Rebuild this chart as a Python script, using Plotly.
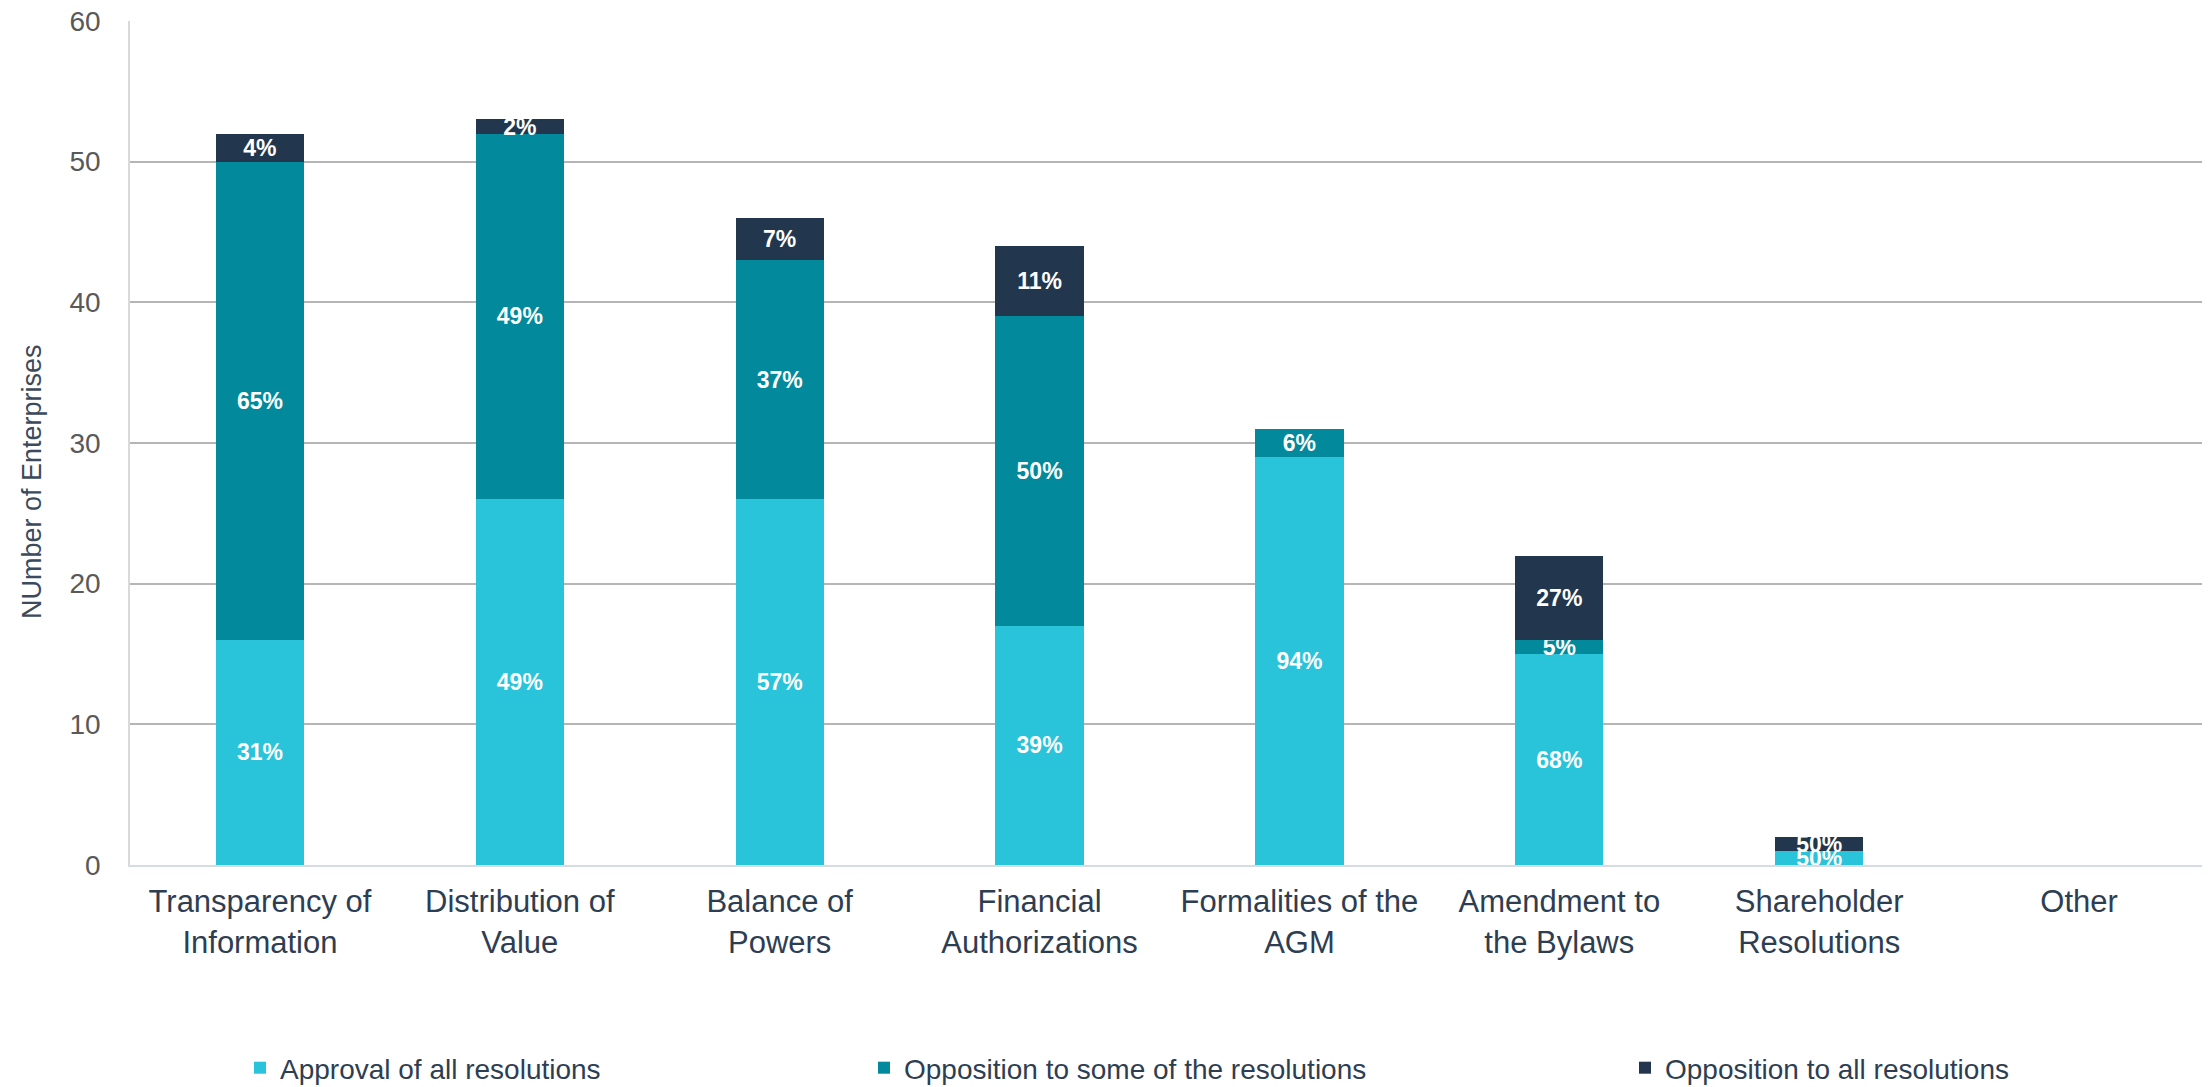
import plotly.graph_objects as go

categories = [
    "Transparency of<br>Information",
    "Distribution of<br>Value",
    "Balance of<br>Powers",
    "Financial<br>Authorizations",
    "Formalities of the<br>AGM",
    "Amendment to<br>the Bylaws",
    "Shareholder<br>Resolutions",
    "Other",
]

approval_all = [16, 26, 26, 17, 29, 15, 1, 0]
opposition_some = [34, 26, 17, 22, 2, 1, 0, 0]
opposition_all = [2, 1, 3, 5, 0, 6, 1, 0]

approval_labels = ["31%", "49%", "57%", "39%", "94%", "68%", "50%", ""]
some_labels = ["65%", "49%", "37%", "50%", "6%", "5%", "", ""]
all_labels = ["4%", "2%", "7%", "11%", "", "27%", "50%", ""]

series_names = [
    "Approval of all resolutions",
    "Opposition to some of the resolutions",
    "Opposition to all resolutions",
]
colors = ["#29C3DA", "#02899B", "#22374D"]

y_title = "NUmber of Enterprises"

FONT = "Liberation Sans, Arial, sans-serif"

fig = go.Figure()
series = [
    (approval_all, approval_labels),
    (opposition_some, some_labels),
    (opposition_all, all_labels),
]
legend_ids = ["legend", "legend2", "legend3"]
for (vals, labels), name, col, lg in zip(series, series_names, colors, legend_ids):
    fig.add_trace(go.Bar(
        x=categories, y=vals, name=name, text=labels,
        marker=dict(color=col, line=dict(width=0)),
        width=0.34,
        textposition="inside", insidetextanchor="middle",
        textangle=0,
        textfont=dict(family=FONT, size=23, color="white", weight="bold"),
        legend=lg,
    ))

# page is offset by the default 8px body margin
OFF = 8
W, H = 2210 - OFF, 1087 - OFF + 30
# target page coordinates of plot area
left_pg, right_pg, top_pg, bottom_pg = 130, 2209, 21, 865
ml = left_pg - OFF
mr = W - (right_pg - OFF)
mt = top_pg - OFF
mb = H - (bottom_pg - OFF)
pw = W - ml - mr
ph = H - mt - mb

def px_x(p):
    return (p - OFF - ml) / pw

def px_y(p):
    return (H - mb - (p - OFF)) / ph

legend_common = dict(
    orientation="h", yanchor="middle", xanchor="left", y=px_y(1068),
    font=dict(family=FONT, size=28, color="#2E3E52"),
    bgcolor="rgba(0,0,0,0)", borderwidth=0,
)

fig.update_layout(
    width=W, height=H,
    margin=dict(l=ml, r=mr, t=mt, b=mb, autoexpand=False),
    paper_bgcolor="white", plot_bgcolor="white",
    barmode="stack",
    uniformtext=dict(minsize=23, mode="show"),
    showlegend=True,
    legend=dict(x=px_x(260 - 20), **legend_common),
    legend2=dict(x=px_x(884 - 20), **legend_common),
    legend3=dict(x=px_x(1645 - 20), **legend_common),
    font=dict(family=FONT),
)

fig.update_yaxes(
    range=[0, 60], dtick=10, automargin=False,
    showgrid=True, gridcolor="#B5B5B5", gridwidth=1.5,
    showline=True, linecolor="#D9D9D9", linewidth=1.5,
    zeroline=False,
    tickfont=dict(family=FONT, size=28, color="#595959"),
    ticks="", ticklabelstandoff=22, ticklabeloverflow="allow",
)
fig.update_xaxes(
    automargin=False,
    showgrid=False,
    showline=True, linecolor="#D6DCE5", linewidth=2,
    tickfont=dict(family=FONT, size=31, color="#2E3E52"),
    ticks="", ticklabelstandoff=8,
)

fig.add_annotation(
    text=y_title, textangle=-90, showarrow=False,
    xref="paper", yref="paper", x=px_x(32), y=px_y(482),
    xanchor="center", yanchor="middle",
    font=dict(family=FONT, size=27, color="#3B4A5C"),
)

fig.add_shape(type="line", xref="paper", yref="paper", x0=1, x1=1, y0=0, y1=1,
              line=dict(color="#BFBFBF", width=1.5))

fig.write_html("out.html")
